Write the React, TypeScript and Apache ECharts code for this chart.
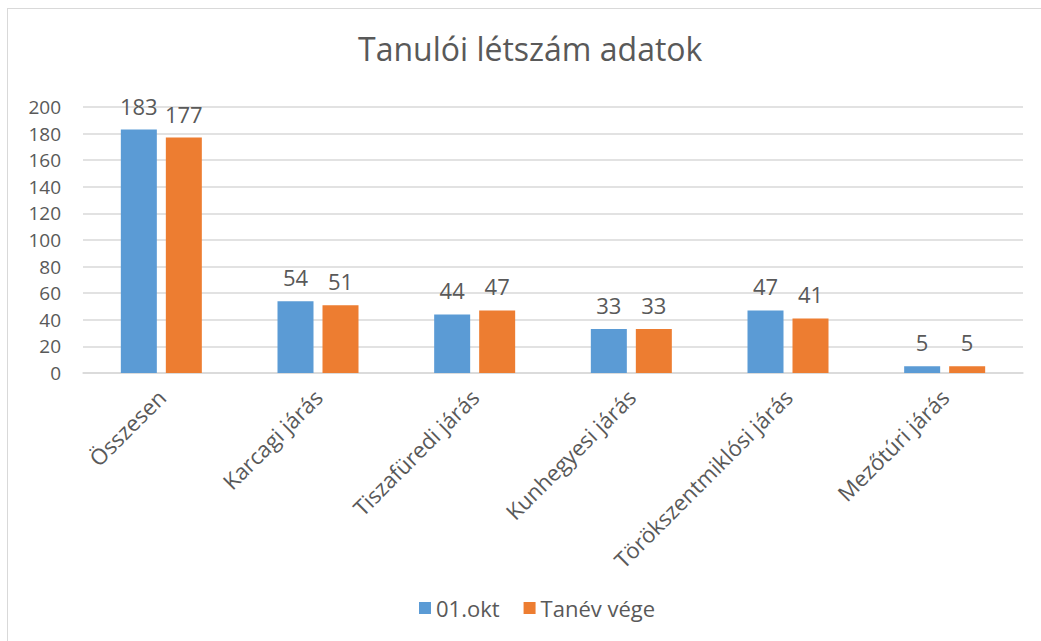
import React, { useEffect, useRef } from "react";
import * as echarts from "echarts";

const title = "Tanulói létszám adatok";
const categories = [
  "Összesen",
  "Karcagi járás",
  "Tiszafüredi járás",
  "Kunhegyesi járás",
  "Törökszentmiklósi járás",
  "Mezőtúri járás",
];
const seriesNames = ["01.okt", "Tanév vége"];
const octValues = [183, 54, 44, 33, 47, 5];
const endValues = [177, 51, 47, 33, 41, 5];
const colors = ["#5B9BD5", "#ED7D31"];

const FONT = "'Open Sans', sans-serif";
const TEXT = "#595959";

export default function App() {
  const ref = useRef<HTMLDivElement>(null);
  useEffect(() => {
    document.body.style.margin = "0";
    const chart = echarts.init(ref.current!, null, { renderer: "svg" });
    const label = {
      show: true,
      position: "top",
      distance: 13,
      color: TEXT,
      fontSize: 22,
      fontFamily: FONT,
    };
    chart.setOption({
      animation: false,
      color: colors,
      textStyle: { fontFamily: FONT, color: TEXT },
      title: {
        text: title,
        left: 353,
        top: 27,
        textStyle: { fontSize: 32, fontWeight: "normal", color: TEXT, fontFamily: FONT },
      },
      legend: {
        data: seriesNames,
        bottom: 17,
        left: 414,
        icon: "rect",
        itemWidth: 12,
        itemHeight: 12,
        itemGap: 24,
        textStyle: { fontSize: 22, color: TEXT, fontFamily: FONT },
      },
      grid: { left: 83, right: 18, top: 107, bottom: 268, containLabel: false },
      xAxis: {
        type: "category",
        data: categories,
        axisLine: { show: true, lineStyle: { color: "#D9D9D9", width: 1.5 } },
        axisTick: { show: false },
        axisLabel: {
          rotate: 45,
          interval: 0,
          fontSize: 22,
          color: TEXT,
          fontFamily: FONT,
          margin: 20,
        },
      },
      yAxis: {
        type: "value",
        min: 0,
        max: 200,
        interval: 20,
        axisLine: { show: false },
        axisTick: { show: false },
        axisLabel: { fontSize: 19, lineHeight: 19, color: TEXT, fontFamily: FONT, margin: 22 },
        splitLine: { lineStyle: { color: "#D9D9D9", width: 1.5 } },
      },
      series: [
        {
          name: seriesNames[0],
          type: "bar",
          data: octValues,
          barWidth: 36,
          barGap: "25%",
          label,
        },
        {
          name: seriesNames[1],
          type: "bar",
          data: endValues,
          barWidth: 36,
          barGap: "25%",
          label,
        },
      ],
    });
    return () => chart.dispose();
  }, []);
  return (
    <div style={{ position: "relative", width: 1041, height: 641, overflow: "hidden", background: "#fff" }}>
      <div
        style={{
          position: "absolute",
          left: 7,
          top: 8,
          width: 1060,
          height: 660,
          border: "1px solid #D9D9D9",
          boxSizing: "border-box",
        }}
      />
      <div ref={ref} style={{ position: "absolute", left: 0, top: 0, width: 1041, height: 641 }} />
    </div>
  );
}
